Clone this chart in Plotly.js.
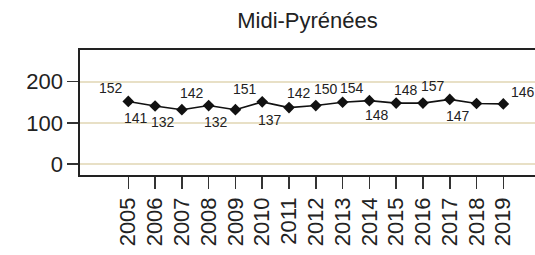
<!DOCTYPE html>
<html>
<head>
<meta charset="utf-8">
<script src="https://cdn.plot.ly/plotly-3.0.1.min.js"></script>
<style>html,body{margin:0;padding:0;background:#fff;overflow:hidden}#chart{width:535px;height:255px}</style>
</head>
<body>
<div id="chart"></div>
<script>
const years = [2005,2006,2007,2008,2009,2010,2011,2012,2013,2014,2015,2016,2017,2018,2019];
const values = [152,141,132,142,132,151,137,142,150,154,148,148,157,147,146];
const yTicks = [0,100,200];
const chartTitle = 'Midi-Pyrénées';

// label placement per point: 'ul' upper-left, 'll' lower-left, 'ur' upper-right
const labelPlace = ['ul','ll','ll','ul','ll','ul','ll','ul','ul','ul','ll','ul','ul','ll','ur'];

const annotations = years.map((yr, i) => {
  const p = labelPlace[i];
  const a = {
    x: yr, y: values[i], xref: 'x', yref: 'y',
    text: String(values[i]), showarrow: false,
    font: {family: 'Liberation Sans, Arial, sans-serif', size: 14, color: '#222'},
    borderpad: 0
  };
  if (p === 'ul') { a.xanchor = 'right'; a.yanchor = 'bottom'; a.xshift = -4; a.yshift = 4; }
  else if (p === 'll') { a.xanchor = 'right'; a.yanchor = 'top'; a.xshift = -6; a.yshift = -3; }
  else { a.xanchor = 'left'; a.yanchor = 'bottom'; a.xshift = 7; a.yshift = 3; }
  return a;
});

const trace = {
  x: years, y: values, type: 'scatter', mode: 'lines+markers',
  line: {color: '#111', width: 1.6},
  marker: {symbol: 'diamond', size: 9, color: '#111'},
  cliponaxis: false, hoverinfo: 'skip'
};

const layout = {
  width: 535, height: 255,
  margin: {l: 80, r: 0, t: 50, b: 80, pad: 0},
  paper_bgcolor: '#fff', plot_bgcolor: '#fff',
  showlegend: false,
  title: {text: chartTitle, x: 0.5, xref: 'paper', y: 0.92, yref: 'container', yanchor: 'middle',
          font: {family: 'Liberation Sans, Arial, sans-serif', size: 22, color: '#222'}},
  xaxis: {
    range: [2003.197, 2020.183], tickmode: 'array', tickvals: years, ticktext: years.map(String),
    tickangle: -90, ticks: 'outside', ticklen: 12, tickwidth: 1.6, tickcolor: '#333',
    showgrid: false, zeroline: false, showline: true, linecolor: '#222', linewidth: 1.6, mirror: true,
    tickfont: {family: 'Liberation Sans, Arial, sans-serif', size: 22, color: '#222'}
  },
  yaxis: {
    range: [-26.7, 277], tickmode: 'array', tickvals: yTicks, ticktext: yTicks.map(String),
    ticks: 'outside', ticklen: 11, tickwidth: 1.6, tickcolor: '#333',
    showgrid: true, gridcolor: '#e8e0c6', gridwidth: 2, zeroline: false,
    showline: true, linecolor: '#222', linewidth: 1.6, mirror: false,
    tickfont: {family: 'Liberation Sans, Arial, sans-serif', size: 22, color: '#222'}
  },
  annotations: annotations
};

Plotly.newPlot('chart', [trace], layout, {staticPlot: true, displayModeBar: false});
</script>
</body>
</html>
